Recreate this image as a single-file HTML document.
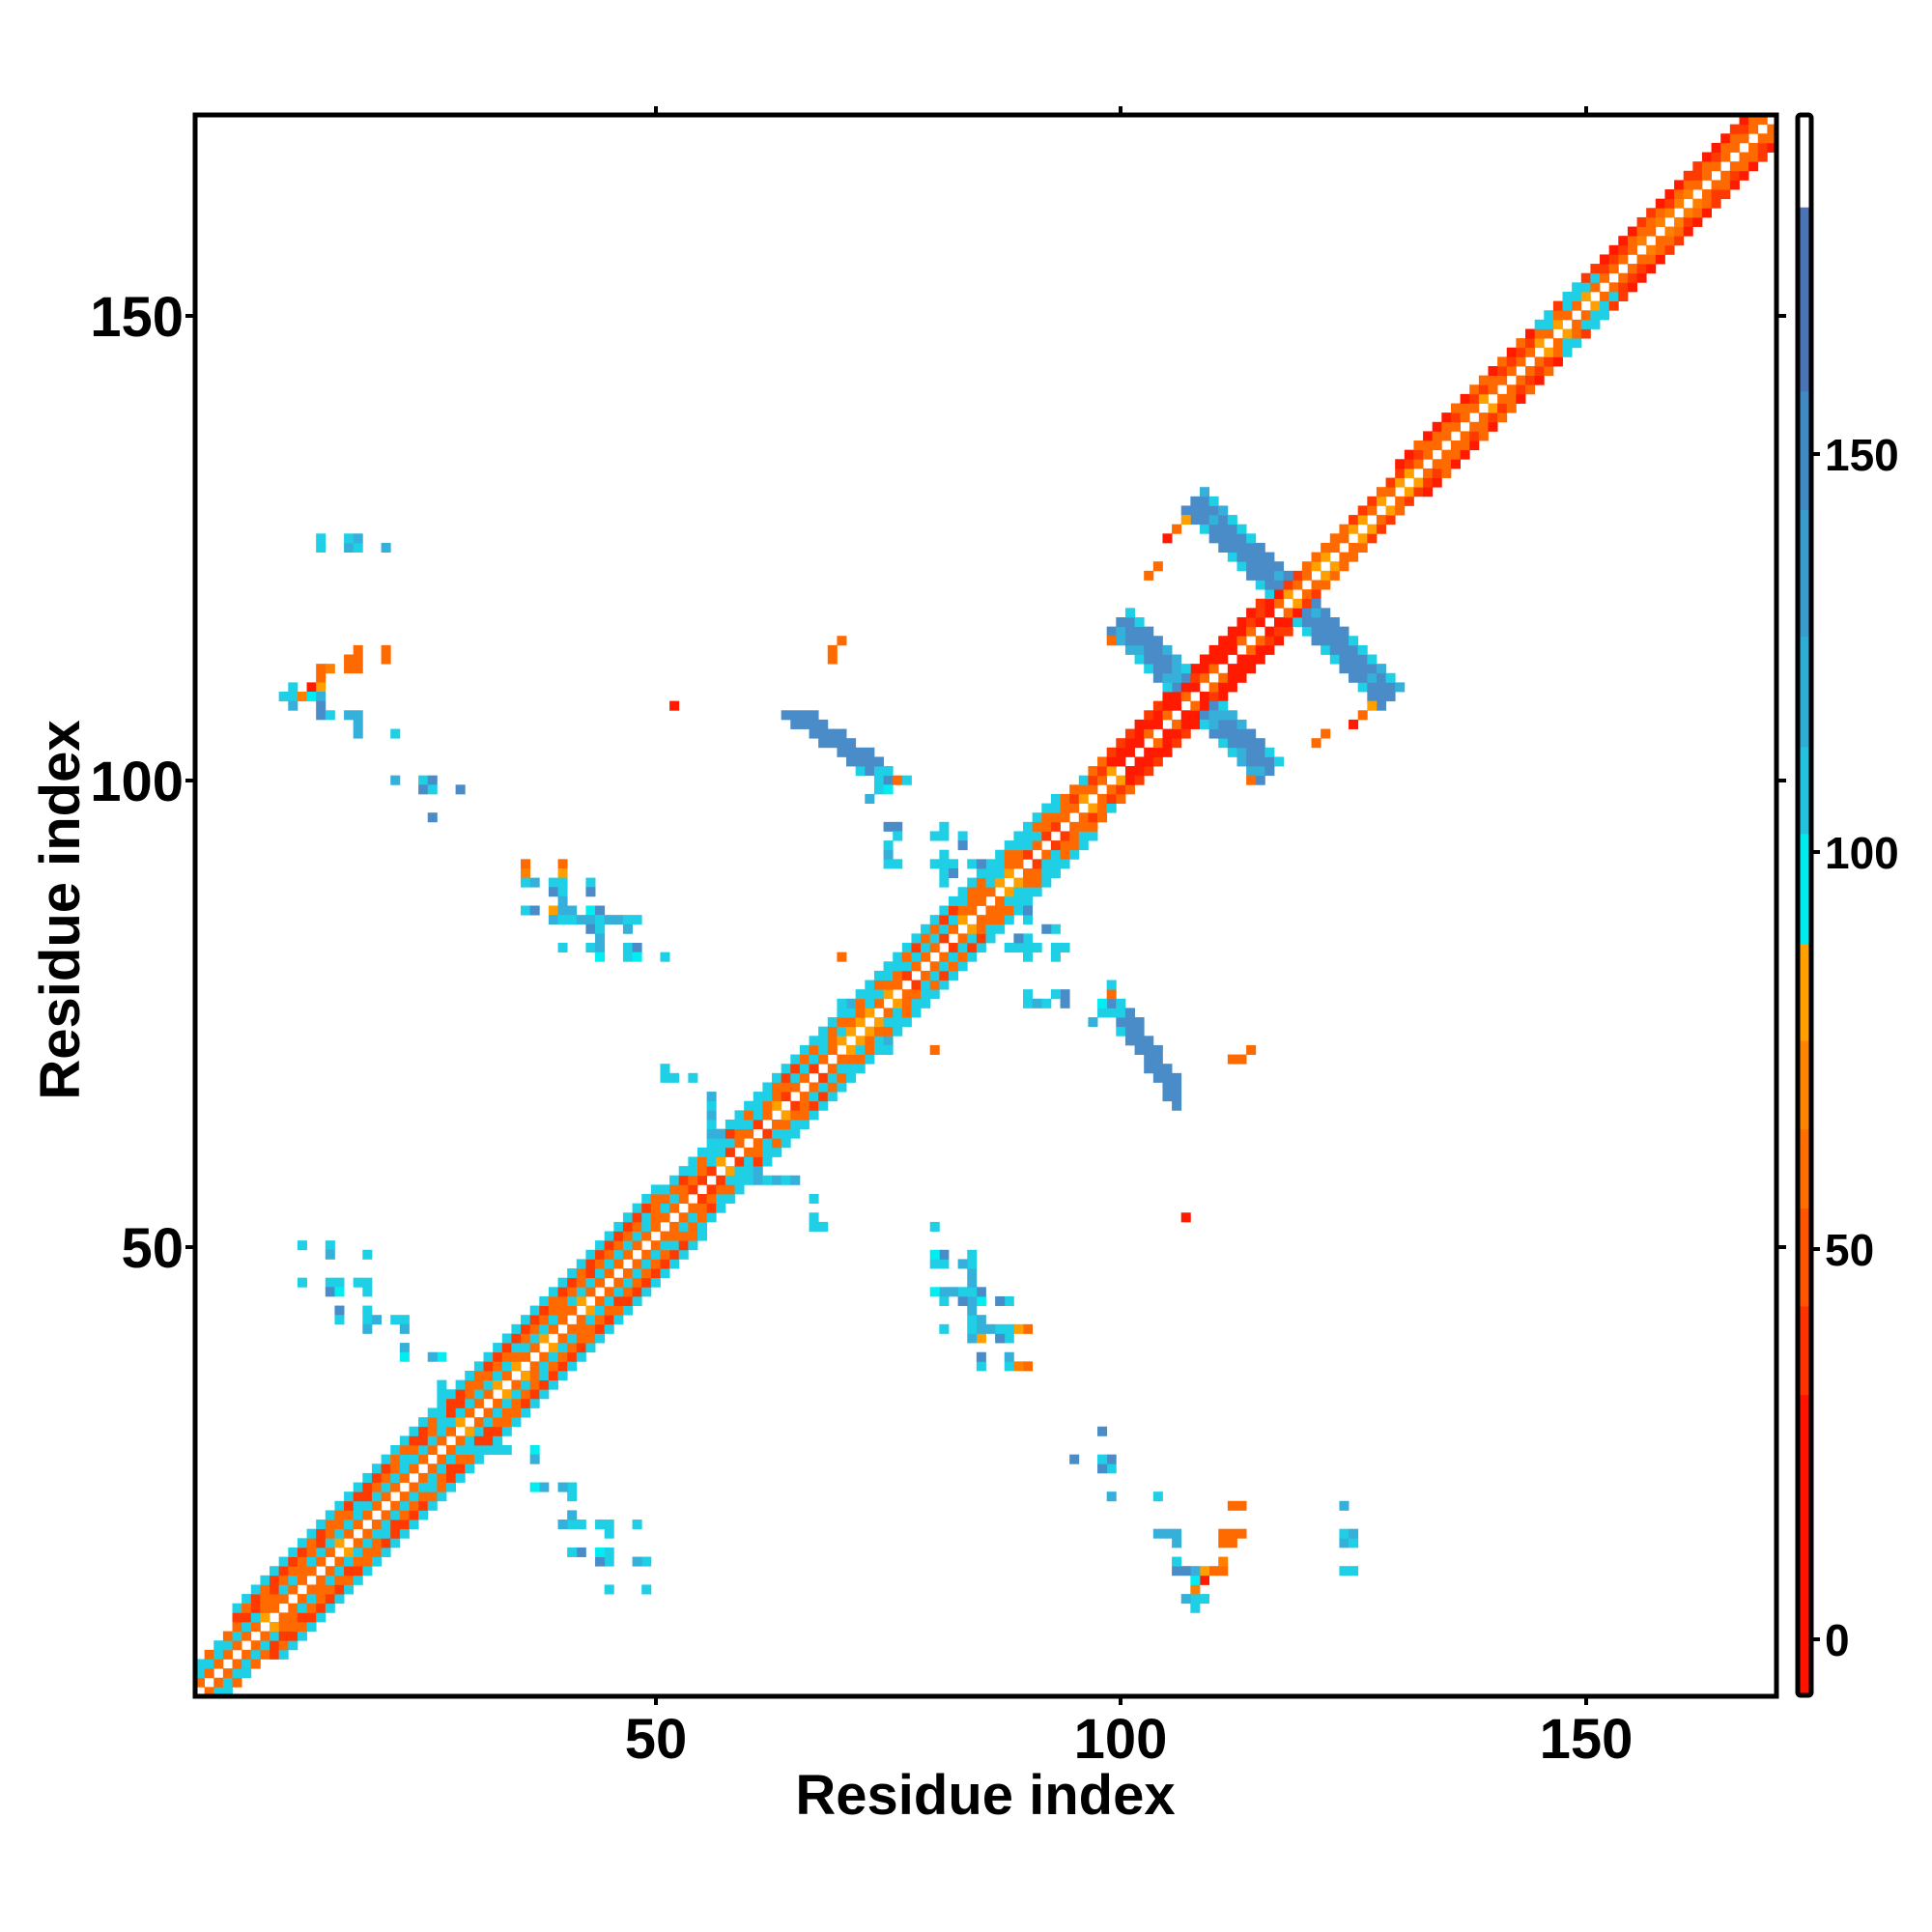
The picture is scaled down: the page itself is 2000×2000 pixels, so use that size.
<!DOCTYPE html>
<html><head><meta charset="utf-8"><style>
html,body{margin:0;padding:0;background:#fff;}
svg{display:block;}
text{font-family:"Liberation Sans",sans-serif;font-weight:bold;fill:#000;}
</style></head><body>
<svg id="s" xmlns="http://www.w3.org/2000/svg" width="2000" height="2000" viewBox="0 0 2000 2000">
<rect width="2000" height="2000" fill="#fff"/>
<g id="cells"></g>
<g id="cbar"></g>
<rect x="202" y="119" width="1637" height="1637" fill="none" stroke="#000" stroke-width="5"/>
<g stroke="#000" stroke-width="4">
<line x1="679" y1="119" x2="679" y2="110"/><line x1="1160" y1="119" x2="1160" y2="110"/><line x1="1642" y1="119" x2="1642" y2="110"/>
<line x1="679" y1="1756" x2="679" y2="1765"/><line x1="1160" y1="1756" x2="1160" y2="1765"/><line x1="1642" y1="1756" x2="1642" y2="1765"/>
<line x1="202" y1="327" x2="192" y2="327"/><line x1="202" y1="808" x2="192" y2="808"/><line x1="202" y1="1291" x2="192" y2="1291"/>
<line x1="1839" y1="327" x2="1849" y2="327"/><line x1="1839" y1="808" x2="1849" y2="808"/><line x1="1839" y1="1291" x2="1849" y2="1291"/>
<line x1="1875" y1="1697" x2="1884" y2="1697"/><line x1="1875" y1="1293" x2="1884" y2="1293"/><line x1="1875" y1="882" x2="1884" y2="882"/><line x1="1875" y1="470" x2="1884" y2="470"/>
</g>
<g font-size="58" text-anchor="middle">
<text x="679" y="1820">50</text><text x="1160" y="1820">100</text><text x="1642" y="1820">150</text>
<text x="1020" y="1878">Residue index</text>
</g>
<g font-size="58" text-anchor="end">
<text x="190" y="348">150</text><text x="190" y="829">100</text><text x="190" y="1312">50</text>
</g>
<text font-size="58" text-anchor="middle" transform="translate(82,942) rotate(-90)">Residue index</text>
<g font-size="46">
<text x="1889" y="1714">0</text><text x="1889" y="1310">50</text><text x="1889" y="899">100</text><text x="1889" y="487">150</text>
</g>
</svg>
<script>
(function(){
var X0=202,Y1=1756,CS=1637/170;
var col={r:'#ff1a00',R:'#ff3a00',o:'#ff6a00',O:'#ff8000',y:'#ffa000',c:'#1ecfe6',b:'#00eef2',m:'#35b0da',s:'#4a8cc8'};
var grid={};
function h(i,j){var a=Math.min(i,j),b=Math.max(i,j);var x=(a*374761393+b*668265263)>>>0;x=(x^(x>>>13))*1274126177>>>0;return (x%1000)/1000;}
function set(i,j,k){if(i<0||j<0||i>169||j>169)return;grid[i+','+j]=k;grid[j+','+i]=k;}
function dmax(m){if(m<6)return 3;if(m<52)return 5;if(m<95)return 4;if(m<99)return 3;if(m<118)return 3;if(m<130)return 2;return 3;}
for(var i=0;i<170;i++)for(var j=i;j<170;j++){
 var d=j-i,m=(i+j)/2,dm=dmax(m);if(d>dm||d==0)continue;var r=h(i,j),k;
 if(m<52){k=[null,r<0.85?'o':'y',r<0.85?'c':'o',r<0.7?'o':(r<0.85?'c':'R'),r<0.6?'R':'o','c'][d];}
 else if(m<95){k=[null,r<0.6?'o':(r<0.8?'R':'y'),r<0.6?'c':'o',r<0.45?'o':(r<0.65?'R':'c'),'c'][d];}
 else if(m<130){ if(m>=99&&m<=117){k=d==1?(r<0.6?'r':'o'):(r<0.65?'r':'R');} else {k=d==1?(r<0.6?'o':'y'):(r<0.5?'R':'o');} if(d==3&&m<99)k=r<0.5?'c':'o';}
 else if(m<145){k=[null,r<0.7?'o':'y',r<0.5?'R':'o',r<0.6?'r':'o'][d];}
 else if(m<152){k=[null,r<0.6?'o':'y',r<0.4?'c':'o',r<0.5?'c':'R'][d];}
 else {k=[null,r<0.6?'o':'O',r<0.5?'R':'o',r<0.6?'r':'R'][d];}
 set(i,j,k);
}
function streak(S,L,w){for(var s=S-w;s<=S+w;s++)for(var i=0;i<170;i++){var j=s-i;var dd=Math.abs(i-j);if(dd<=2||dd>L)continue;var e=(s==S-w||s==S+w)&&h(i,j)<0.5;set(i,j,e?'c':(h(i,j)<0.8?'s':'m'));}}
streak(235,21,2);
streak(214,16,2);
for(var j=98;j<=105;j++){var ci=Math.round(64+(105-j)*1.4);for(var t=-1;t<=2;t++){set(ci+t,j,(j==98||j==99)&&t!=0?'c':'s');}}
set(73,97,'c');set(74,97,'b');set(75,98,'o');
for(var j=57;j<=64;j++){set(55,j,h(55,j)<0.5?'c':'m');}
set(56,58,'c');set(56,60,'m');
set(50,66,'c');set(51,66,'c');set(53,66,'c');set(50,67,'c');set(66,53,'c');set(67,50,'c');
for(var j=28;j<=33;j++)set(26,j,'c');set(36,26,'c');
var F=[
[13,123,'c'],[13,124,'c'],[16,123,'m'],[16,124,'c'],[17,123,'c'],[17,124,'m'],[20,123,'m'],
[17,112,'o'],[20,112,'o'],[20,111,'o'],[16,111,'o'],[17,111,'o'],[16,110,'o'],[17,110,'o'],[13,110,'o'],[14,110,'O'],[13,109,'o'],
[12,108,'r'],[13,108,'y'],[10,108,'c'],[9,107,'c'],[10,107,'c'],[11,107,'O'],[12,107,'b'],[13,107,'m'],[10,106,'m'],[13,106,'s'],
[13,105,'s'],[14,105,'c'],[16,105,'m'],[17,105,'m'],[17,104,'m'],[17,103,'m'],[21,103,'c'],
[21,98,'m'],[24,98,'c'],[25,98,'s'],[24,97,'s'],[25,97,'c'],[28,97,'s'],[25,94,'s'],
[35,89,'o'],[35,88,'O'],[39,89,'o'],[39,88,'y'],[35,87,'c'],[36,87,'m'],[38,87,'c'],[39,87,'c'],[42,87,'c'],
[38,86,'s'],[39,86,'c'],[42,86,'s'],[39,85,'m'],[35,84,'c'],[36,84,'s'],[38,84,'y'],[39,84,'m'],[40,84,'m'],[42,84,'b'],[43,84,'s'],
[38,83,'m'],[39,83,'c'],[40,83,'c'],[41,83,'m'],[42,83,'m'],[43,83,'c'],[44,83,'m'],[45,83,'m'],[46,83,'c'],[47,83,'c'],
[42,82,'s'],[43,82,'c'],[46,82,'m'],[43,81,'m'],[39,80,'c'],[42,80,'c'],[43,80,'m'],[46,80,'c'],[47,80,'s'],[43,79,'b'],[46,79,'c'],[47,79,'b'],[50,79,'c'],
[51,106,'r'],
[11,48,'c'],[14,48,'c'],[14,47,'m'],[18,47,'c'],[11,44,'c'],[14,44,'c'],[15,44,'c'],[14,43,'s'],[15,43,'b'],[17,44,'c'],[18,44,'c'],[18,43,'c'],
[15,41,'s'],[15,40,'c'],[18,41,'c'],[18,40,'c'],[19,40,'m'],[18,39,'m'],[21,40,'c'],[22,40,'c'],[22,39,'m'],[22,37,'m'],[22,36,'b'],[25,36,'m'],[26,36,'b'],[26,33,'c'],
[102,120,'o'],[103,121,'o'],[104,124,'r'],[105,125,'o'],[106,126,'y'],[98,113,'o'],
[68,112,'o'],[69,113,'o'],[69,79,'o'],[68,111,'o'],
[74,93,'s'],[75,93,'s'],[75,92,'c'],[79,92,'c'],[80,92,'c'],[80,93,'c'],[82,92,'c'],[82,91,'s'],[75,89,'c'],[79,89,'c'],[80,89,'c'],[81,89,'c'],[80,90,'c'],[80,88,'c'],[80,87,'c'],[81,88,'s'],[83,89,'c'],[84,89,'s'],
[89,74,'c'],[90,74,'m'],[91,74,'c'],[96,72,'m'],
[69,73,'c'],[70,73,'c'],[69,74,'c'],[70,74,'m'],[71,75,'c'],[72,76,'c']
];
F.forEach(function(f){set(f[0],f[1],f[2]);});
var out=[];
for(var key in grid){var p=key.split(','),i=+p[0],j=+p[1];
 out.push('<rect x="'+(X0+i*CS).toFixed(2)+'" y="'+(Y1-(j+1)*CS).toFixed(2)+'" width="'+(CS+0.4).toFixed(2)+'" height="'+(CS+0.4).toFixed(2)+'" fill="'+col[grid[key]]+'"/>');}
document.getElementById('cells').innerHTML=out.join('');
var bands=[[0,0.0585,'#ffffff'],[0.0585,0.175,'#4a74b6'],[0.175,0.25,'#3f8ac4'],[0.25,0.33,'#389cce'],[0.33,0.40,'#2eaed6'],[0.40,0.455,'#24c2de'],[0.455,0.525,'#00eaf0'],[0.525,0.586,'#ffa000'],[0.586,0.642,'#ff8400'],[0.642,0.692,'#ff6e00'],[0.692,0.754,'#ff5400'],[0.754,0.81,'#ff3200'],[0.81,1,'#ff1200']];
var cb=[],top=119,H=1636;
bands.forEach(function(b){cb.push('<rect x="1861" y="'+(top+b[0]*H).toFixed(1)+'" width="14" height="'+((b[1]-b[0])*H+0.5).toFixed(1)+'" fill="'+b[2]+'"/>');});
cb.push('<rect x="1861" y="119" width="14" height="1636" rx="3" fill="none" stroke="#000" stroke-width="5"/>');
document.getElementById('cbar').innerHTML=cb.join('');
})();
</script>
</body></html>
